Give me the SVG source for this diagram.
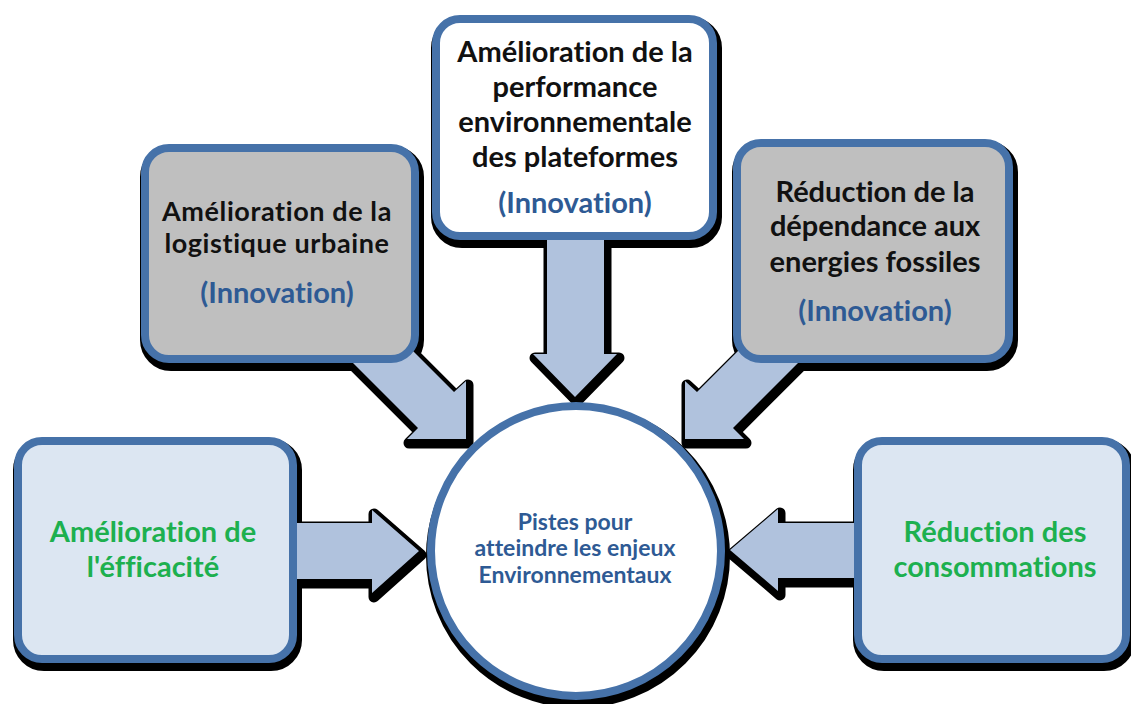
<svg xmlns="http://www.w3.org/2000/svg" xmlns:xlink="http://www.w3.org/1999/xlink" width="1131" height="704" viewBox="0 0 1131 704">
<style>
.sh{fill:#000;stroke:#000;stroke-width:14;stroke-linejoin:round}
.ash{fill:#000;stroke:#000;stroke-width:11;stroke-linejoin:round}
.arr{fill:#b0c2dd;stroke:none}
.box{stroke:#4672a9;stroke-width:8}
.gray{fill:#bfbfbf}
.white{fill:#ffffff}
.light{fill:#dce6f2}
.t{font-family:Lato,"Open Sans","Liberation Sans",sans-serif;font-weight:bold;text-anchor:middle;font-variant-ligatures:none;font-feature-settings:"liga" 0}
.blk{fill:#111;font-size:29px}
.tight{font-size:27px;letter-spacing:0.6px}
.inno{fill:#2e5a94;font-size:29px}
.grn{fill:#1db04f;font-size:29px}
.ctr{fill:#2e5a94;font-size:23px}
</style>
<defs>
<rect id="bL" x="18" y="441" width="275" height="218" rx="24"/>
<rect id="bTL" x="145" y="148" width="270" height="211" rx="24"/>
<rect id="bTC" x="436" y="19" width="277" height="217" rx="24"/>
<rect id="bTR" x="737" y="143" width="272" height="216" rx="24"/>
<rect id="bR" x="858" y="441" width="268" height="218" rx="24"/>
<circle id="circ" cx="576" cy="551" r="145"/>
<polygon id="aL" points="270,523 372,523 372,510 419,551 372,593 372,579 270,579"/>
<polygon id="aR" points="880,523 778,523 778,509 730,550 778,591 778,578 880,578"/>
<polygon id="aD" points="547,200 604,200 604,354 617,354 575,397 533,354 547,354"/>
<polygon id="aTL" points="466,439 466,381 454,392 376,314 340,350 418,428 407,439"/>
<polygon id="aTR" points="685,439 685,381 697,392 775,314 811,350 733,428 744,439"/>
</defs>
<g id="shadows">
<use xlink:href="#bL" class="sh" transform="translate(2,5)"/>
<use xlink:href="#bTL" class="sh" transform="translate(2,5)"/>
<use xlink:href="#bTC" class="sh" transform="translate(2,5)"/>
<use xlink:href="#bTR" class="sh" transform="translate(2,5)"/>
<use xlink:href="#bR" class="sh" transform="translate(2,5)"/>
<use xlink:href="#circ" class="sh" transform="translate(2,5)"/>
</g>
<g id="connectors">
<use xlink:href="#aL" class="ash" transform="translate(2,4)"/>
<use xlink:href="#aR" class="ash" transform="translate(2,4)"/>
<use xlink:href="#aD" class="ash" transform="translate(2,4)"/>
<use xlink:href="#aTL" class="ash" transform="translate(2,4)"/>
<use xlink:href="#aTR" class="ash" transform="translate(2,4)"/>
<use xlink:href="#aL" class="arr"/>
<use xlink:href="#aR" class="arr"/>
<use xlink:href="#aD" class="arr"/>
<use xlink:href="#aTL" class="arr"/>
<use xlink:href="#aTR" class="arr"/>
</g>
<g id="node-center">
<use xlink:href="#circ" class="box white"/>
<text class="t ctr" x="575" y="530">Pistes pour</text>
<text class="t ctr" x="575" y="556">atteindre les enjeux</text>
<text class="t ctr" x="575" y="583">Environnementaux</text>
</g>
<g id="node-efficacite">
<use xlink:href="#bL" class="box light"/>
<text class="t grn" x="153" y="542">Amélioration de</text>
<text class="t grn" x="153" y="577">l'éfficacité</text>
</g>
<g id="node-logistique">
<use xlink:href="#bTL" class="box gray"/>
<text class="t blk tight" x="277" y="221">Amélioration de la</text>
<text class="t blk tight" x="277" y="253">logistique urbaine</text>
<text class="t inno" x="277" y="303">(Innovation)</text>
</g>
<g id="node-plateformes">
<use xlink:href="#bTC" class="box white"/>
<text class="t blk" x="575" y="62">Amélioration de la</text>
<text class="t blk" x="575" y="97">performance</text>
<text class="t blk" x="575" y="132">environnementale</text>
<text class="t blk" x="575" y="167">des plateformes</text>
<text class="t inno" x="575" y="213">(Innovation)</text>
</g>
<g id="node-fossiles">
<use xlink:href="#bTR" class="box gray"/>
<text class="t blk" x="875" y="202">Réduction de la</text>
<text class="t blk" x="875" y="236">dépendance aux</text>
<text class="t blk" x="875" y="272">energies fossiles</text>
<text class="t inno" x="875" y="321">(Innovation)</text>
</g>
<g id="node-consommations">
<use xlink:href="#bR" class="box light"/>
<text class="t grn" x="995" y="542">Réduction des</text>
<text class="t grn" x="995" y="577">consommations</text>
</g>
</svg>
